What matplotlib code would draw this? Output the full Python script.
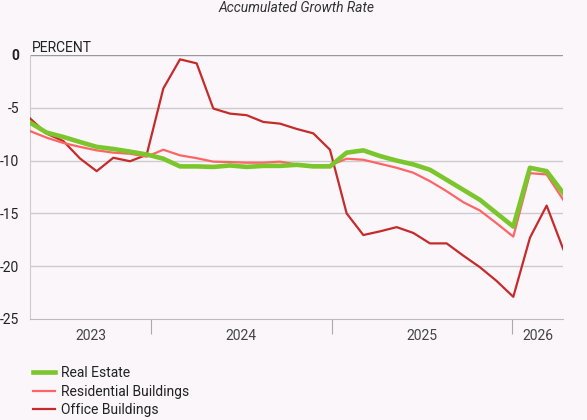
import matplotlib.pyplot as plt
import numpy as np

plt.rcParams["font.family"] = ["Roboto", "DejaVu Sans"]

# Accumulated growth rate, one point per period
real_estate = [-6.4, -7.35, -7.76, -8.24, -8.7, -8.9, -9.15, -9.42, -9.82, -10.55,
               -10.55, -10.6, -10.46, -10.6, -10.5, -10.5, -10.4, -10.55, -10.55, -9.25,
               -9.03, -9.57, -10.0, -10.36, -10.87, -11.82, -12.77, -13.72, -14.99, -16.25,
               -10.68, -11.0, -13.09]
residential = [-7.2, -7.83, -8.33, -8.7, -9.03, -9.25, -9.35, -9.63, -8.97, -9.5,
               -9.77, -10.1, -10.14, -10.2, -10.2, -10.1, -10.36, -10.46, -10.46, -9.82,
               -9.92, -10.3, -10.68, -11.15, -11.95, -12.9, -13.94, -14.73, -15.94, -17.2,
               -11.19, -11.31, -13.72]
office = [-6.0, -7.45, -8.15, -9.8, -11.0, -9.73, -10.06, -9.45, -3.17, -0.41,
          -0.79, -5.07, -5.55, -5.7, -6.34, -6.5, -7.0, -7.42, -8.97, -15.0,
          -17.05, -16.7, -16.3, -16.85, -17.84, -17.84, -19.0, -20.1, -21.4, -22.9,
          -17.3, -14.26, -18.4]

years = ["2023", "2024", "2025", "2026"]
year_breaks = [7.25, 18.1, 28.9]
y_ticks = [0, -5, -10, -15, -20, -25]

bg = "#fbf6fa"
x = np.arange(len(real_estate))

fig = plt.figure(figsize=(5.87, 4.2), dpi=100, facecolor=bg)
ax = fig.add_axes([30 / 587, 1 - 319 / 420, 533.3 / 587, 264 / 420])
ax.set_facecolor(bg)

ax.plot(x, office, color="#c62b2b", linewidth=1.6, label="Office Buildings", zorder=3)
ax.plot(x, residential, color="#ff6565", linewidth=1.6, label="Residential Buildings", zorder=4)
ax.plot(x, real_estate, color="#7cc62d", linewidth=3.3, label="Real Estate", zorder=5)

ax.set_xlim(0, len(real_estate) - 1)
ax.set_ylim(-25, 0)

ax.set_yticks(y_ticks)
ax.set_yticklabels([str(v) for v in y_ticks])
ax.tick_params(axis="y", length=0, pad=8, labelsize=10, labelcolor="#222222")
ax.get_yticklabels()[0].set_fontweight("bold")
for v in y_ticks[1:-1]:
    ax.axhline(v, color="#cccccc", linewidth=1, zorder=1)
ax.axhline(0, color="#999999", linewidth=1, zorder=1)

# year separators and labels
edges = [0] + year_breaks + [len(real_estate) - 1]
centers = [(a + b) / 2 for a, b in zip(edges[:-1], edges[1:])]
ax.set_xticks(year_breaks)
ax.set_xticklabels([])
ax.tick_params(axis="x", which="major", length=11, width=0.8, color="#aaaaaa")
ax.set_xticks(centers, minor=True)
ax.set_xticklabels(years, minor=True)
ax.tick_params(axis="x", which="minor", length=0, pad=7.5, labelsize=10, labelcolor="#444444")

for s in ["top", "right"]:
    ax.spines[s].set_visible(False)
ax.spines["left"].set_color("#cccccc")
ax.spines["bottom"].set_color("#bbbbbb")

ax.text(0.004, 1.011, "PERCENT", transform=ax.transAxes, fontsize=10,
        color="#222222", va="baseline", ha="left")
fig.text(297 / 587, 1 - 7.5 / 420, "Accumulated Growth Rate", ha="center", va="center",
         fontsize=10, style="italic", color="#333333")

handles, labels = ax.get_legend_handles_labels()
leg = ax.legend(handles[::-1], labels[::-1], loc="upper left",
                bbox_to_anchor=(33 / 587, 1 - 366 / 420), bbox_transform=fig.transFigure,
                frameon=False, fontsize=10, handlelength=1.6, handletextpad=0.4,
                labelspacing=0.33, borderaxespad=0, borderpad=0)
for t in leg.get_texts():
    t.set_color("#222222")

fig.savefig("out.png", dpi=100, facecolor=bg)
